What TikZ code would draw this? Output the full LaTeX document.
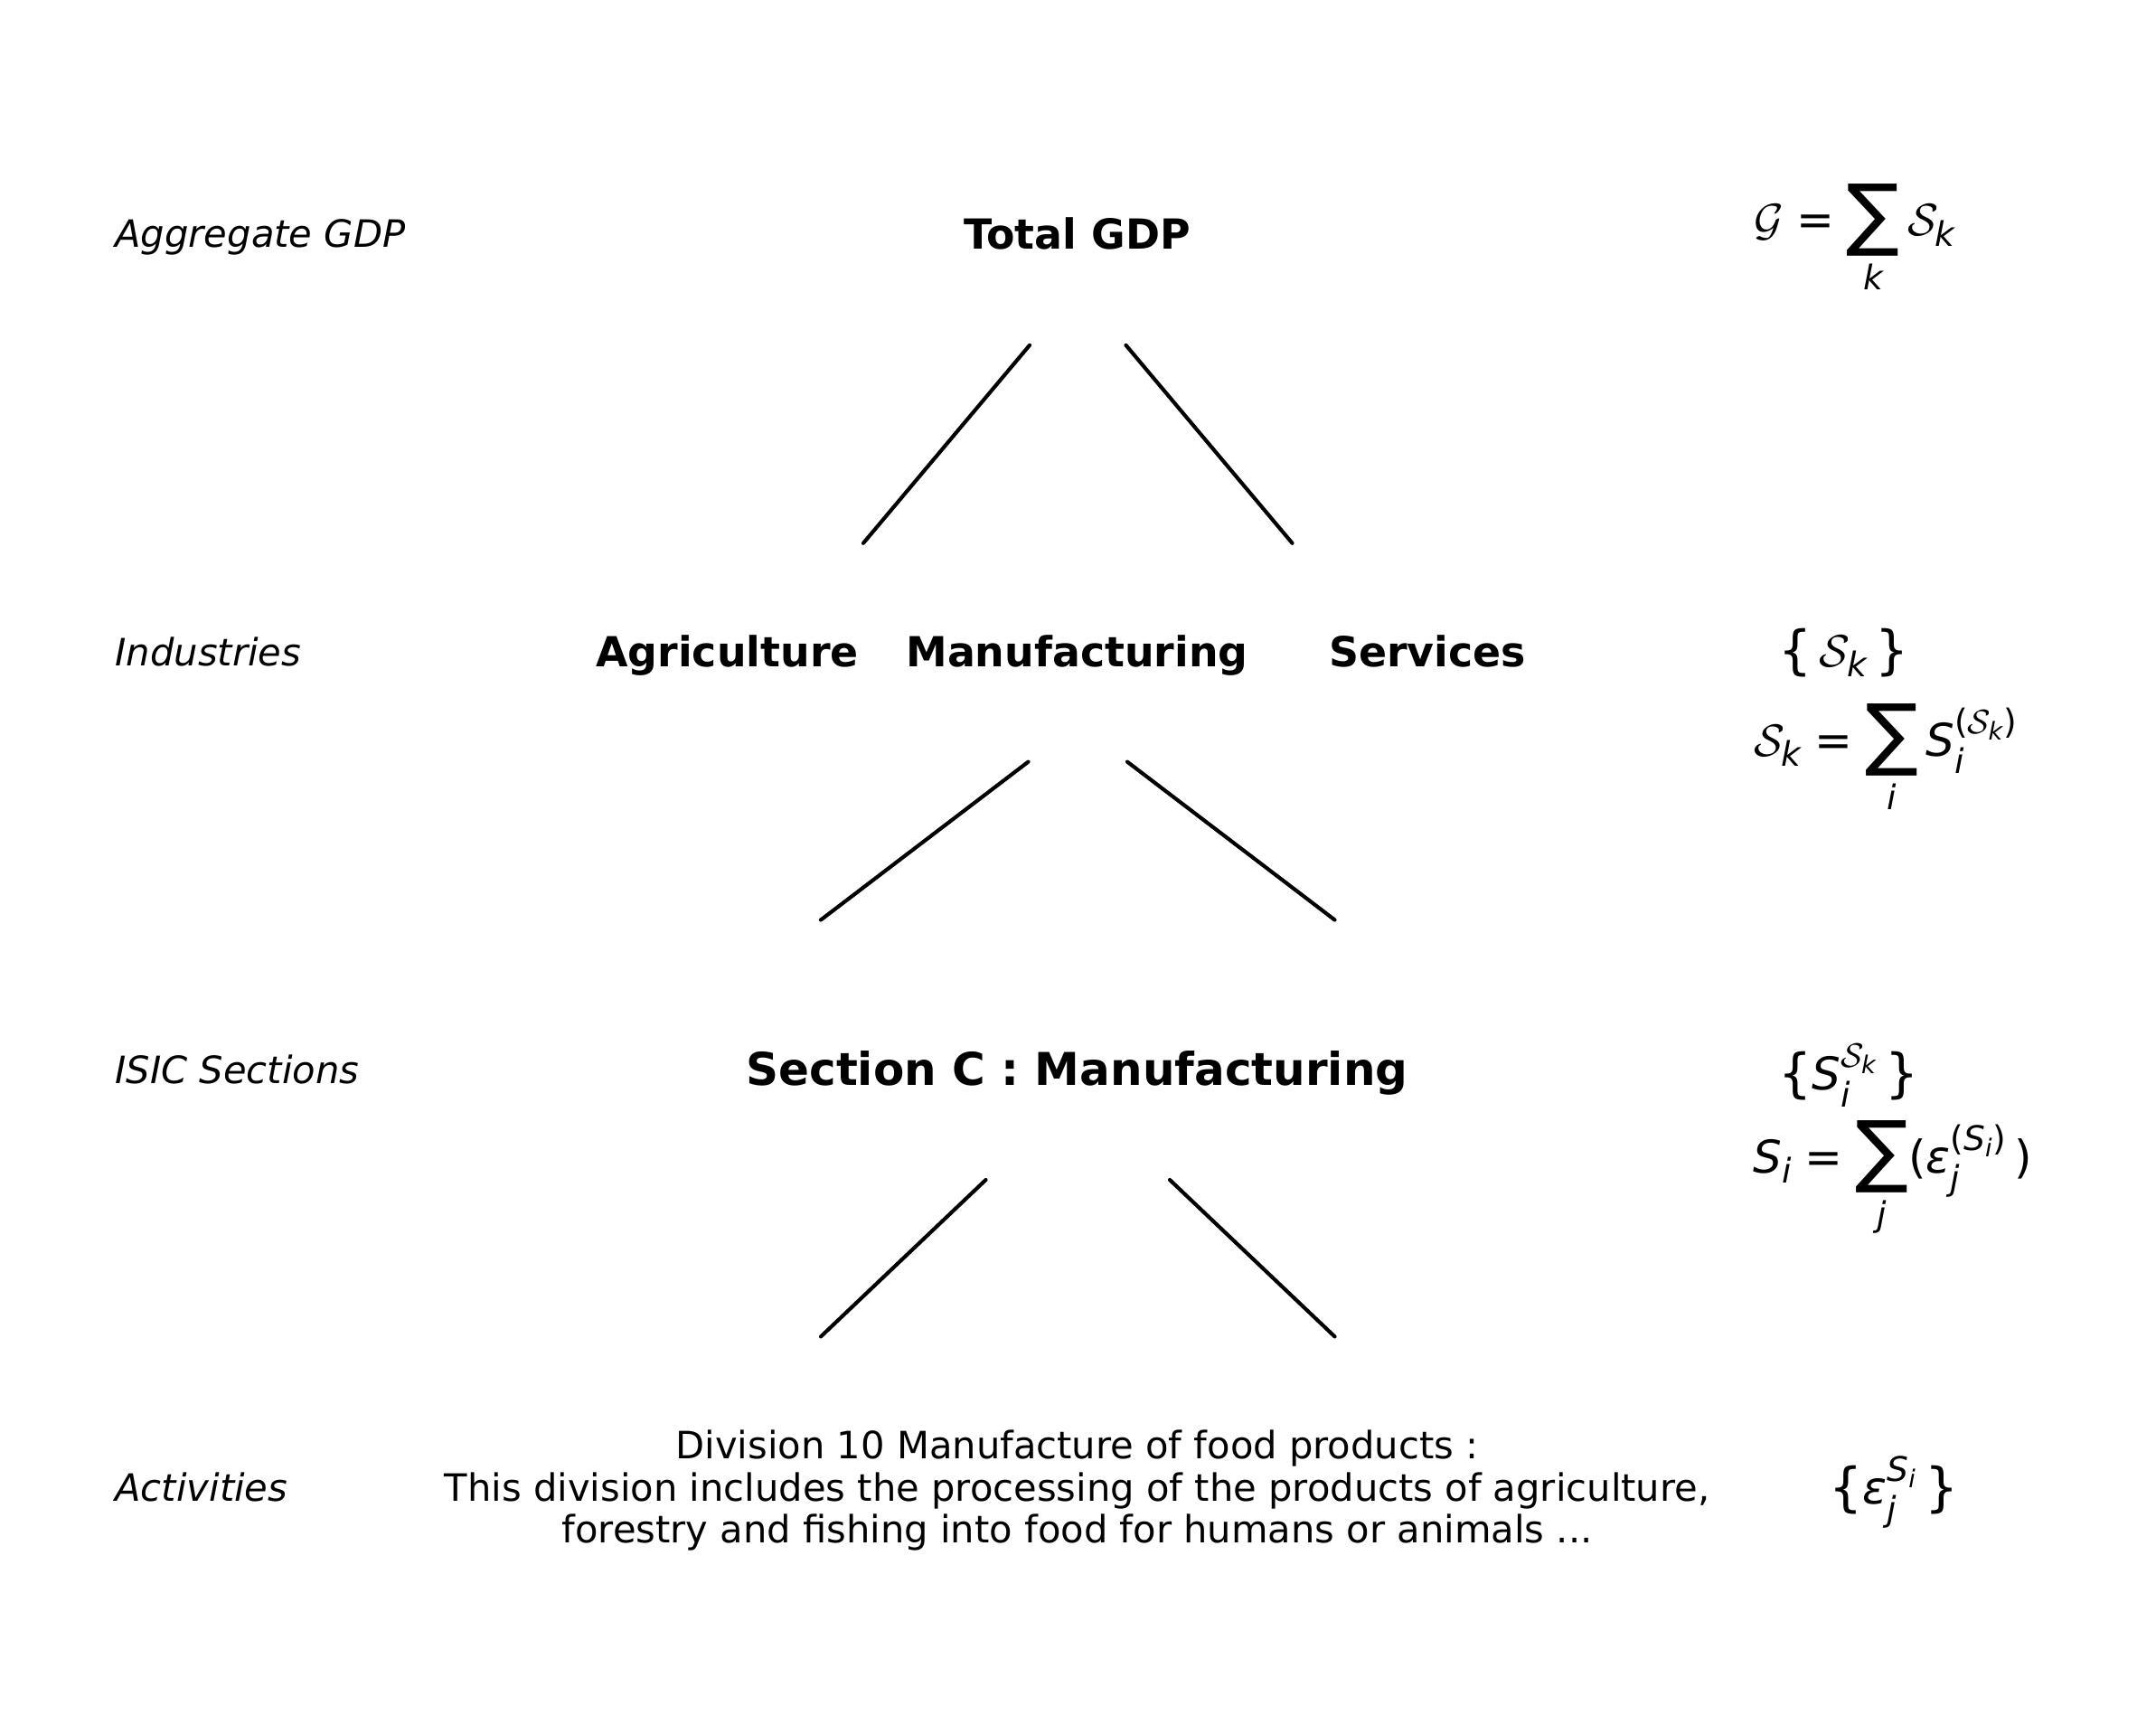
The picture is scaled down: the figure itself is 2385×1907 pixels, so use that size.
\RequirePackage{fix-cm}
\documentclass[tikz,border=0pt]{standalone}
\usepackage{amsmath}
\usepackage{fontspec}
\setmainfont{DejaVu Sans}
\DeclareMathSizes{24}{24}{18}{13}
\newcommand{\mi}[1]{\text{\itshape #1}}
\newcommand{\eqs}{\mathrel{\text{=}}}
\newcommand{\lb}{\mathopen{\raisebox{-1pt}{\fontsize{28}{28}\selectfont\{}}}
\newcommand{\rb}{\mathclose{\raisebox{-1pt}{\fontsize{28}{28}\selectfont\}}}}
\newcommand{\lp}{\mathopen{\text{(}}}
\newcommand{\rp}{\mathclose{\text{)}}}
\newcommand{\bigsum}{\mathop{\raisebox{-2.6pt}{\fontsize{42}{42}\selectfont ∑}}\limits}
\tikzset{
  lbl/.style={anchor=west, inner sep=0pt, font=\fontsize{20}{24}\selectfont\itshape, text height=15.2pt, text depth=4.16pt},
  hd/.style={inner sep=0pt, font=\fontsize{22}{26}\selectfont\bfseries, text height=16.72pt, text depth=4.58pt},
  hdbig/.style={inner sep=0pt, font=\fontsize{24}{28}\selectfont\bfseries, text height=18.24pt, text depth=4.99pt},
  desc/.style={inner sep=0pt, align=center, font=\fontsize{20}{22.4}\selectfont},
  frm/.style={anchor=base west, inner sep=0pt, font=\fontsize{24}{28}\selectfont},
  edge/.style={line width=2pt, line cap=round}
}
\begin{document}
\begin{tikzpicture}[x=0.48pt,y=-0.48pt]
\fill[white] (0,0) rectangle (2385,1907);
\useasboundingbox (0,0) rectangle (2385,1907);

% left labels
\node[lbl] (l1) at (127,262.5) {Aggregate GDP};
\node[lbl] (l2) at (127,724.5) {Industries};
\node[lbl] (l3) at (127,1186.5) {ISIC Sections};
\node[lbl] (l4) at (127,1648.5) {Activities};

% tree
\node[hd] (gdp) at (1191.5,262.5) {Total GDP};
\node[hd] (agr) at (804.5,724.5) {Agriculture};
\node[hd] (man) at (1191.5,724.5) {Manufacturing};
\node[hd] (ser) at (1579,724.5) {Services};
\node[hdbig] (sec) at (1191.5,1186.5) {Section C : Manufacturing};
\node[desc] (div) at (1191.5,1648.5) {Division 10 Manufacture of food products :\\This division includes the processing of the products of agriculture,\\forestry and fishing into food for humans or animals ...};

% connector end points
\coordinate (a1) at (1139,381.8);  \coordinate (a2) at (955,600.8);
\coordinate (b1) at (1245.5,381.8); \coordinate (b2) at (1429.5,600.8);
\coordinate (c1) at (1137.5,842.6); \coordinate (c2) at (908,1017.5);
\coordinate (d1) at (1247,842.6);  \coordinate (d2) at (1476.5,1017.5);
\coordinate (e1) at (1090.5,1305); \coordinate (e2) at (908,1478.4);
\coordinate (f1) at (1294,1305);   \coordinate (f2) at (1476.5,1478.4);
\draw[edge] (a1) -- (a2);
\draw[edge] (b1) -- (b2);
\draw[edge] (c1) -- (c2);
\draw[edge] (d1) -- (d2);
\draw[edge] (e1) -- (e2);
\draw[edge] (f1) -- (f2);

% formulas
\node[frm] (f1n) at (1940,261) {$\mathcal{G}\eqs\bigsum_{\mi{k}}\mathcal{S}_{\mi{k}}$};
\node[frm] (f2n) at (1967,737) {$\lb\,\mathcal{S}_{\mi{k}}\,\rb$};
\node[frm] (f3n) at (1940,836) {$\mathcal{S}_{\mi{k}}\eqs\bigsum_{\mi{i}}\mi{S}_{\mi{i}}^{\lp\mathcal{S}_{\mi{k}}\rp}$};
\node[frm] (f4n) at (1967,1205) {$\lb\mi{S}_{\mi{i}}^{\mathcal{S}_{\mi{k}}}\,\rb$};
\node[frm] (f5n) at (1939,1297) {$\mi{S}_{\mi{i}}\eqs\bigsum_{\mi{j}}\lp\mi{ε}_{\mi{j}}^{\lp\mi{S}_{\mi{i}}\rp}\,\rp$};
\node[frm] (f6n) at (2023,1663) {$\lb\mi{ε}_{\mi{j}}^{\mi{S}_{\mi{i}}}\,\rb$};
\end{tikzpicture}
\end{document}
